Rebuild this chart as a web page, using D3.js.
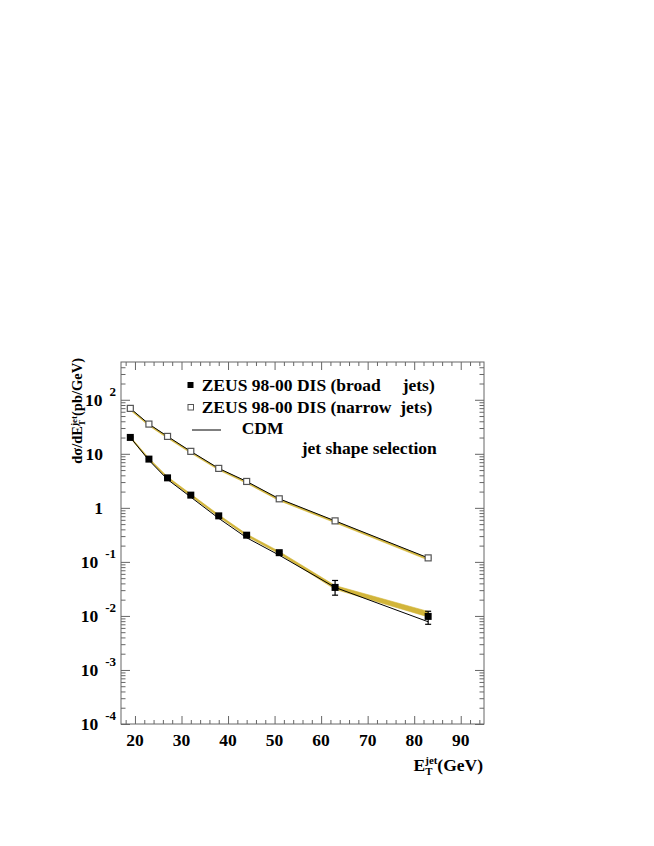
<!DOCTYPE html>
<html>
<head>
<meta charset="utf-8">
<script src="https://cdn.jsdelivr.net/npm/d3@7"></script>
<style>
  body { margin: 0; background: #fff; }
  text { font-family: "Liberation Serif", "Times New Roman", serif; font-weight: bold; fill: #000; }
</style>
</head>
<body>
<svg id="chart" width="654" height="846"></svg>
<script>
// jet E_T bins (GeV)
var etBins = [19, 23, 27, 32, 38, 44, 51, 63, 83];

// ZEUS 98-00 DIS, broad jets
var broadVals  = [20.1, 7.98, 3.59, 1.72, 0.711, 0.312, 0.148, 0.0337, 0.0098];
var broadErrUp = [0.5, 0.2, 0.09, 0.05, 0.02, 0.01, 0.006, 0.0116, 0.0024];
var broadErrDn = [0.5, 0.2, 0.09, 0.05, 0.02, 0.01, 0.006, 0.0095, 0.0028];
var broadBandLo = [19.5, 7.7, 3.45, 1.64, 0.68, 0.298, 0.141, 0.031, 0.0096];
var broadBandHi = [20.8, 8.3, 3.75, 1.8, 0.745, 0.327, 0.156, 0.0365, 0.0121];
var broadCDM   = [20.1, 7.6, 3.35, 1.58, 0.64, 0.28, 0.133, 0.0337, 0.0078];

// ZEUS 98-00 DIS, narrow jets
var narrowVals  = [69.3, 35.5, 21.0, 11.1, 5.37, 3.08, 1.47, 0.574, 0.1186];
var narrowErr   = [1.2, 0.6, 0.35, 0.2, 0.1, 0.06, 0.03, 0.012, 0.003];
var narrowBandLo = [64, 33, 19.5, 10.3, 5.0, 2.85, 1.36, 0.53, 0.108];
var narrowBandHi = [69, 35.4, 20.9, 11.0, 5.32, 3.05, 1.46, 0.57, 0.117];
var narrowCDM   = [69.3, 35.5, 21.0, 11.1, 5.37, 3.08, 1.47, 0.574, 0.1186];

// axis ticks
var xMajor = [20, 30, 40, 50, 60, 70, 80, 90];
var yExponents = [-4, -3, -2, -1, 0, 1, 2];

var legendRows = ["ZEUS 98-00 DIS (broad     jets)", "ZEUS 98-00 DIS (narrow  jets)", "CDM"];
var selectionLabel = "jet shape selection";

var svg = d3.select("#chart");
var L = 121, R = 484, T = 362, B = 724;
var frameCol = "#666", bandCol = "#d2b53a";

var x = d3.scaleLinear().domain([17, 95]).range([L, R]);
var y = d3.scaleLog().domain([1e-4, 500]).range([B, T]);

// minor ticks
var xMinor = d3.range(18, 95, 2).filter(v => v % 10 != 0);
var yMinor = [];
yExponents.forEach(e => {
  for (var k = 2; k <= 9; k++) {
    var v = k * Math.pow(10, e);
    if (v < 500) yMinor.push(v);
  }
});
var yMajorVals = yExponents.map(e => Math.pow(10, e));

function tickAxis(axisFn, scale, vals, size, transform) {
  var g = svg.append("g")
    .attr("transform", transform)
    .call(axisFn(scale).tickValues(vals).tickSize(size).tickFormat(""));
  g.select(".domain").remove();
  g.selectAll("line").attr("stroke", frameCol);
  return g;
}

tickAxis(d3.axisBottom, x, xMajor, -8, "translate(0," + B + ")");
tickAxis(d3.axisBottom, x, xMinor, -4, "translate(0," + B + ")");
tickAxis(d3.axisTop, x, xMajor, -8, "translate(0," + T + ")");
tickAxis(d3.axisTop, x, xMinor, -4, "translate(0," + T + ")");
tickAxis(d3.axisLeft, y, yMajorVals, -9, "translate(" + L + ",0)");
tickAxis(d3.axisLeft, y, yMinor, -4.5, "translate(" + L + ",0)");
tickAxis(d3.axisRight, y, yMajorVals, -9, "translate(" + R + ",0)");
tickAxis(d3.axisRight, y, yMinor, -4.5, "translate(" + R + ",0)");

svg.append("rect")
  .attr("x", L).attr("y", T)
  .attr("width", R - L).attr("height", B - T)
  .attr("fill", "none").attr("stroke", frameCol).attr("stroke-width", 1);

// x tick labels
svg.append("g").selectAll("text")
  .data(xMajor).enter().append("text")
  .attr("x", d => x(d)).attr("y", 746)
  .attr("text-anchor", "middle")
  .style("font-size", "17.5px")
  .text(d => d);

// y tick labels
var yl = svg.append("g").selectAll("text")
  .data(yExponents).enter().append("text")
  .attr("text-anchor", "end")
  .style("font-size", "17.5px")
  .attr("x", d => (d == 0 || d == 1) ? 103 : 116)
  .attr("y", d => y(Math.pow(10, d)) + 6);
yl.each(function(d) {
  var t = d3.select(this);
  if (d == 0) { t.text("1"); return; }
  t.append("tspan").text("10");
  if (d != 1) {
    t.append("tspan").attr("dx", 7).attr("dy", -10)
      .style("font-size", "13px").text(d);
  }
});

// bands
var bandArea = d3.area()
  .x(d => x(d.et))
  .y0(d => y(d.lo))
  .y1(d => y(d.hi));
[[broadBandLo, broadBandHi], [narrowBandLo, narrowBandHi]].forEach(b => {
  svg.append("path")
    .datum(etBins.map((e, i) => ({et: e, lo: b[0][i], hi: b[1][i]})))
    .attr("d", bandArea)
    .attr("fill", bandCol).attr("stroke", bandCol).attr("stroke-width", 0.6);
});

// CDM lines
var line = d3.line().x(d => x(d.et)).y(d => y(d.v));
[broadCDM, narrowCDM].forEach(c => {
  svg.append("path")
    .datum(etBins.map((e, i) => ({et: e, v: c[i]})))
    .attr("d", line)
    .attr("fill", "none").attr("stroke", "#000").attr("stroke-width", 1);
});

// error bars
function errBars(vals, up, dn) {
  var g = svg.append("g").attr("stroke", "#000").attr("stroke-width", 1.2);
  etBins.forEach((e, i) => {
    var px = x(e), y1 = y(vals[i] + up[i]), y2 = y(vals[i] - dn[i]);
    g.append("line").attr("x1", px).attr("x2", px).attr("y1", y1).attr("y2", y2);
    g.append("line").attr("x1", px - 3).attr("x2", px + 3).attr("y1", y1).attr("y2", y1);
    g.append("line").attr("x1", px - 3).attr("x2", px + 3).attr("y1", y2).attr("y2", y2);
  });
}
errBars(broadVals, broadErrUp, broadErrDn);
errBars(narrowVals, narrowErr, narrowErr);

// markers
var ms = 7;
svg.append("g").selectAll("rect")
  .data(etBins.map((e, i) => ({et: e, v: broadVals[i]})))
  .enter().append("rect")
  .attr("x", d => x(d.et) - ms / 2).attr("y", d => y(d.v) - ms / 2)
  .attr("width", ms).attr("height", ms)
  .attr("fill", "#000");
svg.append("g").selectAll("rect")
  .data(etBins.map((e, i) => ({et: e, v: narrowVals[i]})))
  .enter().append("rect")
  .attr("x", d => x(d.et) - ms / 2 + 0.5).attr("y", d => y(d.v) - ms / 2 + 0.5)
  .attr("width", ms - 1).attr("height", ms - 1)
  .attr("fill", "#fff").attr("stroke", "#555").attr("stroke-width", 1.2);

// legend
svg.append("rect").attr("x", 187.5).attr("y", 382).attr("width", 6).attr("height", 6).attr("fill", "#000");
svg.append("rect").attr("x", 188).attr("y", 404.5).attr("width", 5.5).attr("height", 5.5)
  .attr("fill", "#fff").attr("stroke", "#555").attr("stroke-width", 1);
svg.append("line").attr("x1", 192).attr("x2", 221).attr("y1", 430).attr("y2", 430)
  .attr("stroke", "#000").attr("stroke-width", 1);
var legY = [390.7, 413.3, 434];
var legX = [201.7, 201.7, 241.7];
legendRows.forEach((s, i) => {
  svg.append("text").attr("x", legX[i]).attr("y", legY[i])
    .style("font-size", "17.5px").style("white-space", "pre")
    .attr("xml:space", "preserve")
    .text(s);
});
svg.append("text").attr("x", 301.7).attr("y", 453.5)
  .style("font-size", "17.5px").text(selectionLabel);

// axis titles with stacked sup/sub
function stackedTitle(t, before, sup, sub, after, fs) {
  t.append("tspan").text(before);
  var sp = t.append("tspan").attr("dy", -fs * 0.38).style("font-size", (fs * 0.62) + "px").text(sup);
  var w1 = sp.node().getComputedTextLength();
  var sb = t.append("tspan").attr("dx", -w1).attr("dy", fs * 0.62).style("font-size", (fs * 0.62) + "px").text(sub);
  var w2 = sb.node().getComputedTextLength();
  t.append("tspan").attr("dx", Math.max(0, w1 - w2)).attr("dy", -fs * 0.24).text(after);
}

var xt = svg.append("text").attr("x", 483).attr("y", 771)
  .attr("text-anchor", "end").style("font-size", "17.5px");
stackedTitle(xt, "E", "jet", "T", "(GeV)", 17.5);

var yt = svg.append("text")
  .attr("transform", "translate(82,358) rotate(-90)")
  .attr("text-anchor", "end").style("font-size", "14.5px");
stackedTitle(yt, "dσ/dE", "jet", "T", "(pb/GeV)", 14.5);
</script>
</body>
</html>
